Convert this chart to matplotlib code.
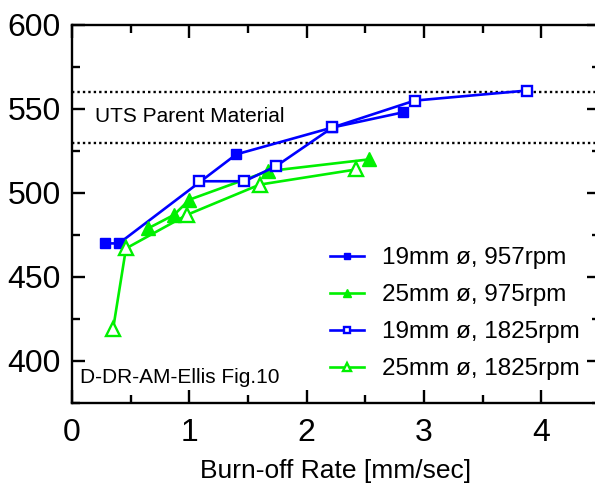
import matplotlib
matplotlib.use("Agg")
import matplotlib.pyplot as plt
from matplotlib.ticker import MultipleLocator

plt.rcParams['font.family'] = ['Liberation Sans', 'DejaVu Sans']

# Data
x_19_957 = [0.28, 0.40, 1.40, 2.22, 2.82]
y_19_957 = [470, 470, 523, 539, 548]

x_25_975 = [0.65, 0.87, 1.00, 1.67, 2.53]
y_25_975 = [479, 487, 496, 513, 520]

x_19_1825 = [1.08, 1.47, 1.74, 2.22, 2.92, 3.88]
y_19_1825 = [507, 507, 516, 539, 555, 561]

x_25_1825 = [0.35, 0.46, 0.98, 1.60, 2.42]
y_25_1825 = [419, 467, 487, 505, 514]

uts_lines = [560, 530]

labels = ["19mm ø, 957rpm", "25mm ø, 975rpm", "19mm ø, 1825rpm", "25mm ø, 1825rpm"]

blue = '#0000ff'
green = '#00f000'

fig = plt.figure(figsize=(5.95, 4.92), dpi=100)
ax = fig.add_axes([72/595, 1-403/492, (600-72)/595, (403-25)/492])

for yv in uts_lines:
    ax.axhline(yv, color='black', lw=1.7, ls=(0, (1, 1.3)), zorder=1)

lw = 1.9
l1, = ax.plot(x_19_957, y_19_957, color=blue, lw=lw, marker='s', ms=7,
              mfc=blue, mec=blue, zorder=3)
l2, = ax.plot(x_25_975, y_25_975, color=green, lw=lw, marker='^', ms=10,
              mfc=green, mec=green, zorder=3)
l3, = ax.plot(x_19_1825, y_19_1825, color=blue, lw=lw, marker='s', ms=6.5,
              mfc='white', mec=blue, mew=1.7, zorder=3)
l4, = ax.plot(x_25_1825, y_25_1825, color=green, lw=lw, marker='^', ms=9.5,
              mfc='white', mec=green, mew=1.7, zorder=3)

ax.set_xlim(0, 4.5)
ax.set_ylim(375, 600)
ax.xaxis.set_major_locator(MultipleLocator(1))
ax.xaxis.set_minor_locator(MultipleLocator(0.5))
ax.yaxis.set_major_locator(MultipleLocator(50))
ax.yaxis.set_minor_locator(MultipleLocator(25))
ax.tick_params(which='both', direction='in', top=True, right=True, width=1.7,
               labelsize=23)
ax.tick_params(axis='x', pad=11)
ax.tick_params(axis='y', pad=8)
ax.tick_params(which='major', length=9.5)
ax.tick_params(which='minor', length=6)
for s in ax.spines.values():
    s.set_linewidth(1.7)

ax.set_xlabel("Burn-off Rate [mm/sec]", fontsize=19, labelpad=8)

ax.text(0.2, 545.5, "UTS Parent Material", fontsize=15, va='center', ha='left')
ax.text(0.07, 390, "D-DR-AM-Ellis Fig.10", fontsize=15, va='center', ha='left')

leg = ax.legend([l1, l2, l3, l4], labels, loc='upper left',
                bbox_to_anchor=((330-72)/528, 1-(247-25)/378),
                fontsize=17.5, frameon=False, markerscale=0.6,
                handlelength=1.4, handletextpad=0.75, labelspacing=0.62,
                borderaxespad=0, borderpad=0)

fig.savefig("out.png", dpi=100)
